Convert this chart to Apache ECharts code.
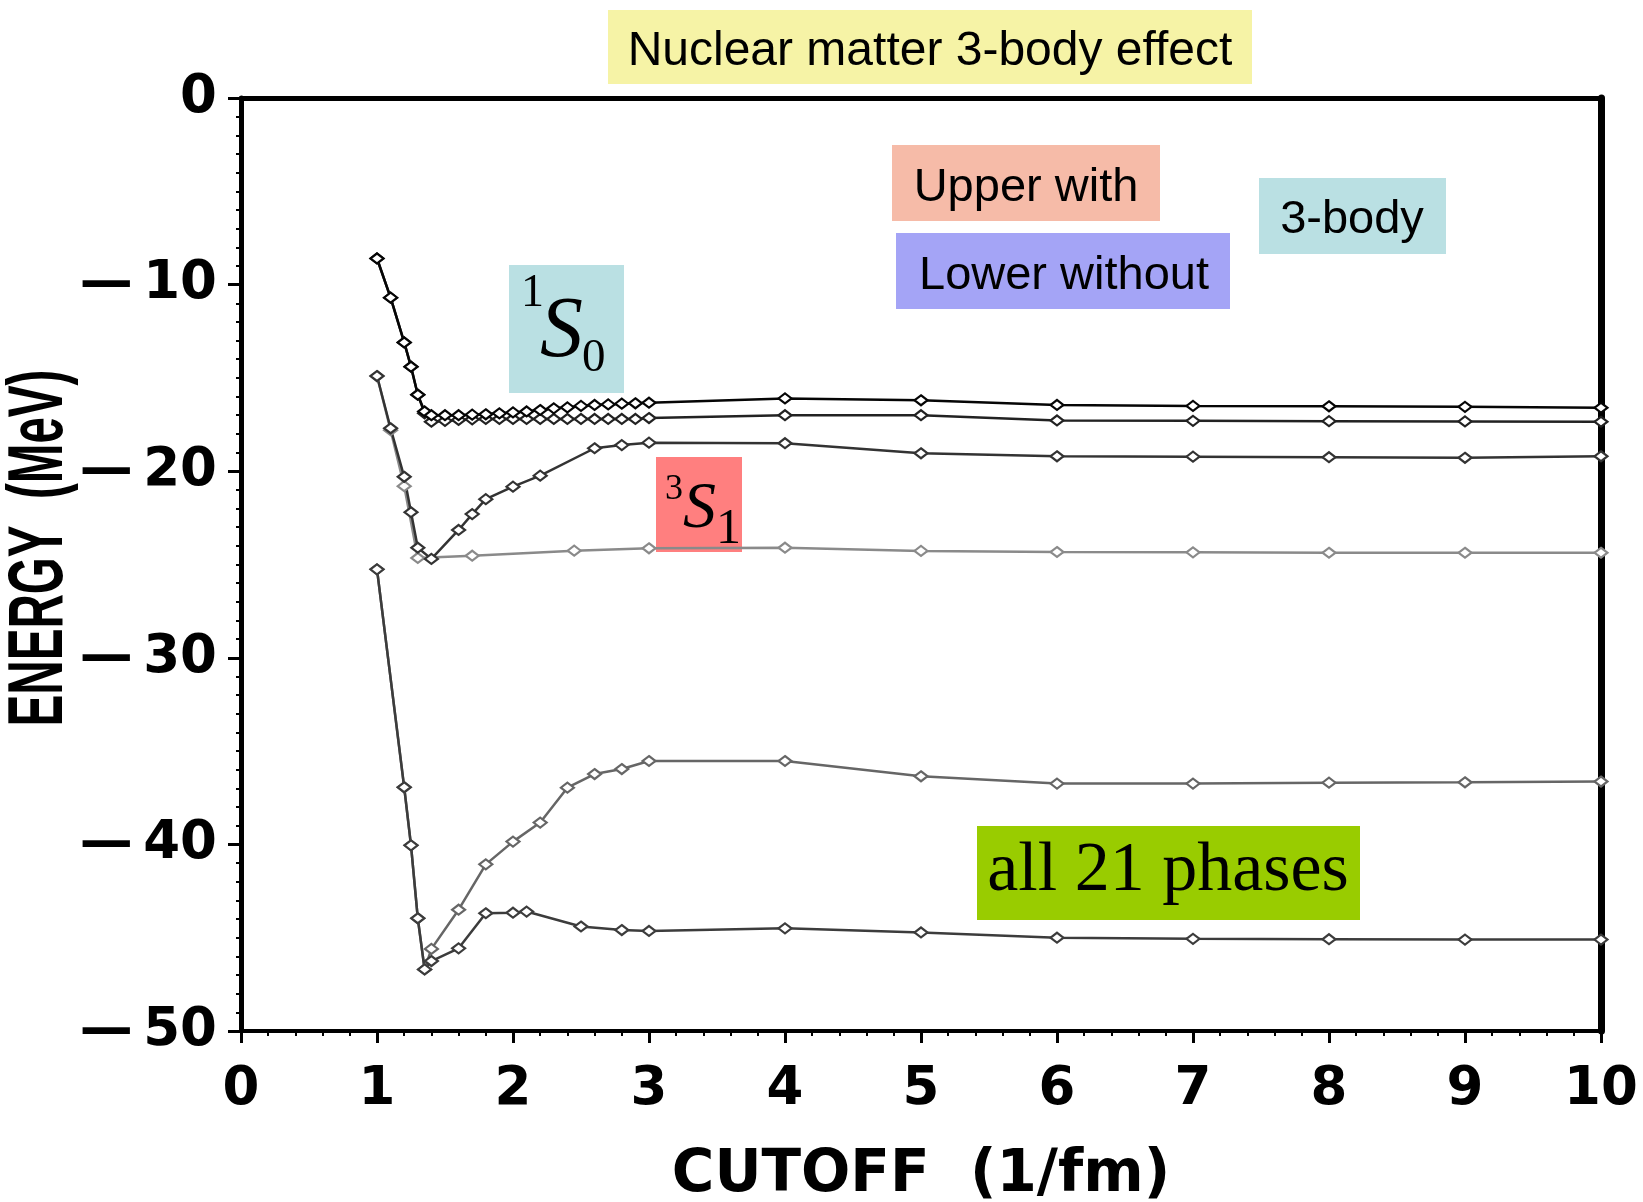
<!DOCTYPE html>
<html>
<head>
<meta charset="utf-8">
<title>Nuclear matter 3-body effect</title>
<script src="https://cdn.jsdelivr.net/npm/echarts@6/dist/echarts.min.js"></script>
<style>
  html, body { margin: 0; padding: 0; background: #fff; }
  #chart { width: 1643px; height: 1202px; }
</style>
</head>
<body>
<div id="chart"></div>
<script>
// Binding energy per nucleon (MeV) versus momentum cutoff (1/fm)

// 1S0 channel
const cutoff1S0 = [1.0, 1.1, 1.2, 1.25, 1.3, 1.35, 1.4, 1.5, 1.6, 1.7, 1.8, 1.9, 2.0, 2.1, 2.2, 2.3, 2.4, 2.5, 2.6, 2.7, 2.8, 2.9, 3.0, 4, 5, 6, 7, 8, 9, 10];
const energy1S0With = [-8.6, -10.7, -13.1, -14.4, -15.9, -16.8, -17.0, -17.0, -17.0, -16.97, -16.95, -16.9, -16.85, -16.8, -16.72, -16.63, -16.58, -16.5, -16.45, -16.42, -16.38, -16.36, -16.33, -16.1, -16.2, -16.45, -16.5, -16.52, -16.55, -16.6];
const energy1S0Without = [-8.6, -10.7, -13.1, -14.4, -15.9, -16.9, -17.35, -17.3, -17.25, -17.22, -17.2, -17.2, -17.2, -17.2, -17.2, -17.2, -17.2, -17.2, -17.2, -17.2, -17.2, -17.2, -17.15, -17.0, -17.0, -17.28, -17.3, -17.32, -17.33, -17.35];

// 3S1 channel
const cutoff3S1With = [1.0, 1.1, 1.2, 1.25, 1.3, 1.4, 1.6, 1.7, 1.8, 2.0, 2.2, 2.6, 2.8, 3.0, 4, 5, 6, 7, 8, 9, 10];
const energy3S1With = [-14.9, -17.7, -20.3, -22.2, -24.1, -24.7, -23.15, -22.3, -21.5, -20.83, -20.24, -18.77, -18.6, -18.47, -18.5, -19.04, -19.2, -19.22, -19.25, -19.28, -19.2];
const cutoff3S1Without = [1.0, 1.1, 1.2, 1.3, 1.7, 2.45, 3.0, 4, 5, 6, 7, 8, 9, 10];
const energy3S1Without = [-14.9, -17.8, -20.8, -24.65, -24.53, -24.26, -24.13, -24.1, -24.27, -24.33, -24.35, -24.37, -24.37, -24.37];

// all 21 partial waves
const cutoffAllWith = [1.0, 1.2, 1.25, 1.3, 1.35, 1.4, 1.6, 1.8, 2.0, 2.2, 2.4, 2.6, 2.8, 3.0, 4, 5, 6, 7, 8, 9, 10];
const energyAllWith = [-25.26, -36.94, -40.05, -43.96, -46.7, -45.6, -43.5, -41.07, -39.85, -38.83, -36.96, -36.23, -35.96, -35.53, -35.53, -36.35, -36.74, -36.74, -36.69, -36.67, -36.63];
const cutoffAllWithout = [1.0, 1.2, 1.25, 1.3, 1.35, 1.4, 1.6, 1.8, 2.0, 2.1, 2.5, 2.8, 3.0, 4, 5, 6, 7, 8, 9, 10];
const energyAllWithout = [-25.26, -36.94, -40.05, -43.96, -46.7, -46.25, -45.57, -43.69, -43.66, -43.6, -44.4, -44.59, -44.64, -44.5, -44.72, -45.0, -45.06, -45.08, -45.1, -45.1];

// axis ticks
const xTicks = [0, 1, 2, 3, 4, 5, 6, 7, 8, 9, 10];
const yTicks = [0, -10, -20, -30, -40, -50];

function pairs(xs, ys) {
  return xs.map(function (x, i) { return [x, ys[i]]; });
}

function lineSeries(name, xs, ys, color, width) {
  return {
    name: name,
    type: 'line',
    data: pairs(xs, ys),
    symbol: 'diamond',
    symbolSize: [13, 10],
    showAllSymbol: true,
    lineStyle: { color: color, width: width },
    itemStyle: { color: '#ffffff', borderColor: color, borderWidth: 2.2 },
    emphasis: { disabled: true },
    z: 3
  };
}

const tickFont = { fontFamily: 'DejaVu Sans', fontWeight: 'bold', fontSize: 53, color: '#000' };

const chart = echarts.init(document.getElementById('chart'), null, { renderer: 'canvas' });

const option = {
  animation: false,
  backgroundColor: '#ffffff',
  grid: { left: 241, top: 98, width: 1360, height: 933, containLabel: false },
  xAxis: [
    {
      type: 'value', min: xTicks[0], max: xTicks[xTicks.length - 1], interval: 1,
      position: 'bottom',
      axisLine: { show: true, onZero: false, lineStyle: { color: '#000', width: 4 } },
      axisTick: { show: true, inside: false, length: 12, lineStyle: { color: '#000', width: 3 } },
      minorTick: { show: true, splitNumber: 5, length: 5, lineStyle: { color: '#000', width: 2 } },
      splitLine: { show: false },
      axisLabel: Object.assign({ margin: 33 }, tickFont)
    },
    {
      type: 'value', min: 0, max: 10, position: 'top',
      axisLine: { show: true, onZero: false, lineStyle: { color: '#000', width: 5 } },
      axisTick: { show: false }, axisLabel: { show: false }, splitLine: { show: false }
    }
  ],
  yAxis: [
    {
      type: 'value', min: yTicks[yTicks.length - 1], max: yTicks[0], interval: 10,
      position: 'left',
      axisLine: { show: true, onZero: false, lineStyle: { color: '#000', width: 5 } },
      axisTick: { show: true, inside: false, length: 13, lineStyle: { color: '#000', width: 3 } },
      minorTick: { show: true, splitNumber: 10, length: 5, lineStyle: { color: '#000', width: 2 } },
      splitLine: { show: false },
      axisLabel: Object.assign({
        margin: 24,
        formatter: function (v) { return v === 0 ? '0' : '\u2014\u2009' + Math.abs(v); }
      }, tickFont)
    },
    {
      type: 'value', min: -50, max: 0, position: 'right',
      axisLine: { show: true, onZero: false, lineStyle: { color: '#000', width: 7 } },
      axisTick: { show: false }, axisLabel: { show: false }, splitLine: { show: false }
    }
  ],
  series: [
    lineSeries('3S1 without 3-body', cutoff3S1Without, energy3S1Without, '#8a8a8a', 2.5),
    lineSeries('all 21 with 3-body', cutoffAllWith, energyAllWith, '#666666', 2.5),
    lineSeries('all 21 without 3-body', cutoffAllWithout, energyAllWithout, '#3c3c3c', 2.5),
    lineSeries('3S1 with 3-body', cutoff3S1With, energy3S1With, '#333333', 2.5),
    lineSeries('1S0 without 3-body', cutoff1S0, energy1S0Without, '#222222', 2.5),
    lineSeries('1S0 with 3-body', cutoff1S0, energy1S0With, '#050505', 2.5)
  ],
  graphic: [
    // headline
    { type: 'rect', shape: { x: 608, y: 10, width: 644, height: 74 }, style: { fill: '#f6f3a6' }, z: 1 },
    { type: 'text', x: 930, y: 52, style: { text: 'Nuclear matter 3-body effect', fontFamily: 'Liberation Sans', fontSize: 48, fill: '#000', align: 'center', verticalAlign: 'middle' }, z: 2 },

    // key
    { type: 'rect', shape: { x: 892, y: 145, width: 268, height: 76 }, style: { fill: '#f6bba8' }, z: 1 },
    { type: 'text', x: 1026, y: 188, style: { text: 'Upper with', fontFamily: 'Liberation Sans', fontSize: 47, fill: '#000', align: 'center', verticalAlign: 'middle' }, z: 2 },
    { type: 'rect', shape: { x: 896, y: 233, width: 334, height: 76 }, style: { fill: '#a4a4f6' }, z: 1 },
    { type: 'text', x: 1064, y: 276, style: { text: 'Lower without', fontFamily: 'Liberation Sans', fontSize: 47, fill: '#000', align: 'center', verticalAlign: 'middle' }, z: 2 },
    { type: 'rect', shape: { x: 1259, y: 178, width: 187, height: 76 }, style: { fill: '#bae0e3' }, z: 1 },
    { type: 'text', x: 1352, y: 220, style: { text: '3-body', fontFamily: 'Liberation Sans', fontSize: 47, fill: '#000', align: 'center', verticalAlign: 'middle' }, z: 2 },

    // 1S0 label
    { type: 'rect', shape: { x: 509, y: 265, width: 115, height: 128 }, style: { fill: '#bae0e3' }, z: 1 },
    { type: 'text', x: 521, y: 294, style: { text: '1', fontFamily: 'Liberation Serif', fontSize: 46, fill: '#000', align: 'left', verticalAlign: 'middle' }, z: 2 },
    { type: 'text', x: 540, y: 333, style: { text: 'S', fontFamily: 'Liberation Serif', fontStyle: 'italic', fontSize: 86, fill: '#000', align: 'left', verticalAlign: 'middle' }, z: 2 },
    { type: 'text', x: 582, y: 359, style: { text: '0', fontFamily: 'Liberation Serif', fontSize: 47, fill: '#000', align: 'left', verticalAlign: 'middle' }, z: 2 },

    // 3S1 label
    { type: 'rect', shape: { x: 656, y: 457, width: 86, height: 95 }, style: { fill: '#ff7f7f' }, z: 1 },
    { type: 'text', x: 665, y: 490, style: { text: '3', fontFamily: 'Liberation Serif', fontSize: 36, fill: '#000', align: 'left', verticalAlign: 'middle' }, z: 2 },
    { type: 'text', x: 683, y: 510, style: { text: 'S', fontFamily: 'Liberation Serif', fontStyle: 'italic', fontSize: 66, fill: '#000', align: 'left', verticalAlign: 'middle' }, z: 2 },
    { type: 'text', x: 716, y: 530, style: { text: '1', fontFamily: 'Liberation Serif', fontSize: 50, fill: '#000', align: 'left', verticalAlign: 'middle' }, z: 2 },

    // all 21 phases label
    { type: 'rect', shape: { x: 977, y: 826, width: 383, height: 94 }, style: { fill: '#99cc00' }, z: 1 },
    { type: 'text', x: 1168, y: 872, style: { text: 'all 21 phases', fontFamily: 'Liberation Serif', fontSize: 70, fill: '#000', align: 'center', verticalAlign: 'middle' }, z: 2 },

    // axis titles
    { type: 'text', x: 921, y: 1176, style: { text: 'CUTOFF  (1/fm)', fontFamily: 'DejaVu Sans', fontWeight: 'bold', fontSize: 58, fill: '#000', align: 'center', verticalAlign: 'middle' }, z: 2 },
    { type: 'text', x: 40, y: 548, rotation: Math.PI / 2, scaleX: 0.61, style: { text: 'ENERGY  (MeV)', fontFamily: 'Liberation Sans', fontWeight: 'bold', fontSize: 78, fill: '#000', align: 'center', verticalAlign: 'middle' }, z: 2 }
  ]
};

chart.setOption(option);
</script>
</body>
</html>
